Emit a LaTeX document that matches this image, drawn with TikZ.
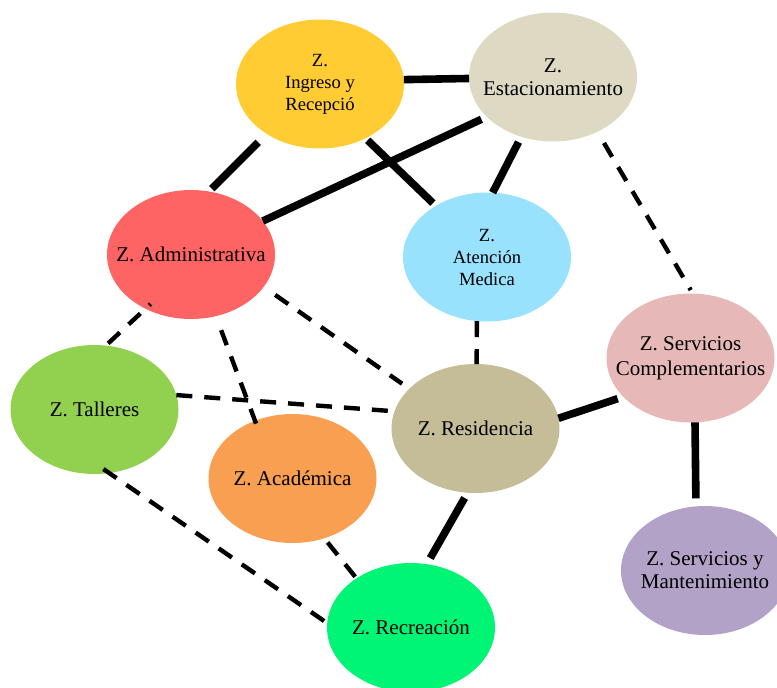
\documentclass[tikz,border=0pt]{standalone}
\usepackage{fontspec}
\setmainfont{Liberation Serif}
\usepackage{xcolor}
\usepackage{tikz}
\usetikzlibrary{shapes.geometric}

\definecolor{ingreso}{HTML}{FFCC33}
\definecolor{estac}{HTML}{DDD9C3}
\definecolor{admin}{HTML}{FF6464}
\definecolor{atencion}{HTML}{99E2FE}
\definecolor{servcomp}{HTML}{E6B9B8}
\definecolor{talleres}{HTML}{92D050}
\definecolor{residencia}{HTML}{C4BD97}
\definecolor{academica}{HTML}{F89F52}
\definecolor{mantenim}{HTML}{B2A2C7}
\definecolor{recreacion}{HTML}{00F575}

\begin{document}
\begin{tikzpicture}[x=0.5pt, y=-0.5pt, every node/.style={font=\fontsize{10.5}{11.5}\selectfont}]
  \tikzstyle{zone} = [ellipse, minimum width=84pt, minimum height=64.5pt, inner xsep=-20pt, inner ysep=0pt,
                      outer sep=0pt, align=center, text=black]
  \tikzstyle{solidlink} = [line width=3.8pt]
  \tikzstyle{dashlink} = [line width=2.2pt, dash pattern=on 8pt off 6pt]
  \clip (0,0) rectangle (777,687);
  \node (ing) [zone, fill=ingreso, font=\fontsize{9.3}{11}\selectfont] at (320,84) {Z.\\Ingreso y\\Recepció};
  \node (est) [zone, fill=estac] at (553,77) {Z.\\Estacionamiento};
  \node (adm) [zone, fill=admin] at (191,254.5) {Z. Administrativa};
  \node (ate) [zone, fill=atencion, font=\fontsize{9.3}{11}\selectfont] at (487,257) {Z.\\Atención\\Medica};
  \node (scomp) [zone, fill=servcomp, font=\fontsize{10.5}{12.5}\selectfont] at (690.5,358) {Z. Servicios\\Complementarios};
  \node (tal) [zone, fill=talleres] at (94.5,409.5) {Z. Talleres};
  \node (res) [zone, fill=residencia] at (475.5,428.5) {Z. Residencia};
  \node (aca) [zone, fill=academica] at (292.5,478.5) {Z. Académica};
  \node (mant) [zone, fill=mantenim] at (705,570.5) {Z. Servicios y\\Mantenimiento};
  \node (rec) [zone, fill=recreacion] at (411,627.5) {Z. Recreación};
  \draw [solidlink] (ing.3) -- (est.181);
  \draw [solidlink, shorten <=6pt, shorten >=2pt] (ing.223) -- (adm.74);
  \draw [solidlink, shorten <=1.5pt, shorten >=2pt] (ing.310) -- (ate.135);
  \draw [solidlink, shorten <=3pt] (est.211) -- (adm.25);
  \draw [solidlink, shorten <=3pt] (est.242) -- (ate.85);
  \draw [solidlink, shorten >=3pt] (res.7) -- (scomp.210);
  \draw [solidlink, shorten >=4pt] (scomp.274) -- (mant.98);
  \draw [solidlink, shorten <=3pt, shorten >=3.5pt] (res.263) -- (rec.76);
  \draw [dashlink, shorten <=6.5pt, shorten >=2pt] (est.309) -- (scomp.88);
  \draw [dashlink, dash phase=7pt, shorten <=-3.5pt, shorten >=1.5pt] (adm.230) -- (tal.80);
  \draw [dashlink, shorten <=7.5pt, shorten >=-1.5pt] (adm.292) -- (aca.123);
  \draw [dashlink, shorten <=7pt, shorten >=4.4pt] (adm.336) -- (res.149);
  \draw [dashlink, shorten >=2pt] (tal.10) -- (res.168);
  \draw [dashlink] (ate.261) -- (res.89);
  \draw [dashlink, shorten <=-3.5pt, shorten >=1pt] (tal.283) -- (rec.177);
  \draw [dashlink, shorten <=2.7pt, shorten >=1pt] (aca.298) -- (rec.138);
\end{tikzpicture}
\end{document}
